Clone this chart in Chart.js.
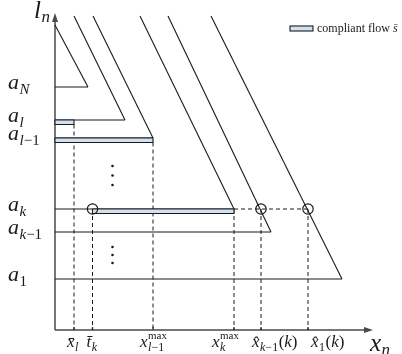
<!DOCTYPE html>
<html><head><meta charset="utf-8">
<style>html,body{margin:0;padding:0;background:#fff;}canvas{display:block;}</style>
<script src="https://cdn.jsdelivr.net/npm/chart.js@4/dist/chart.umd.min.js"></script>
</head><body>
<canvas id="c" width="402" height="354"></canvas>
<script>
// ---- data (x: flow axis, y: level axis) ----
const levelLabels = ['a|N', 'a|l', 'a|l−1', 'a|k', 'a|k−1', 'a|1'];
const levelValues = [243, 210, 192, 121, 98, 51];
const levelEnds   = [33, 70, 98, 179, 216, 287];
const diagTopX    = [0, 19, 38, 85, 113, 156];
const diagTopY    = [305, 314, 314, 314, 314, 314];
const flowLevels  = [210, 192, 121];
const flowStart   = [0, 0, 37.5];
const flowEnd     = [19, 98, 179];
const xTickValues = [19, 37.5, 98, 179, 206, 253];
const xTickLabels = ['x̄|l', 't̄|k', 'x|l−1|max', 'x|k|max', 'x̂|k−1||(k)', 'x̂|1||(k)'];
const dropTop     = [205.5, 121, 187.5, 121, 121, 121];
const markX       = [37.5, 206, 253];
const markY       = [121, 121, 121];
const dashRowY    = 121, dashRowFrom = 179, dashRowTo = 253;
const dotsX       = [57.5, 57.5, 57.5, 57.5, 57.5, 57.5];
const dotsY       = [164, 154.5, 145, 83, 75, 67];
const legendText  = 'compliant flow ';
const legendSym   = 's̄';

// ---- styles / layout ----
const INK = '#1a1a1a';
const BAR_H = 4.5;
const BAR_FILL = '#d3e2f2';
const SERIF = '"Liberation Serif", "DejaVu Serif", serif';
const tickLabelShift = [-7, -6, -13, -22, -9, 3];

const lineBase = {type:'line', showLine:true, pointRadius:0, borderColor:INK, borderWidth:1.1, fill:false, clip:false, tension:0};
const datasets = [];

// circles (drawn on top: first dataset)
datasets.push({type:'scatter', data: markX.map((x,i)=>({x, y:markY[i]})), pointRadius:5.2, pointBorderWidth:1.2,
  pointBorderColor:INK, pointBackgroundColor:'rgba(0,0,0,0)', showLine:false, clip:false});
// ellipsis dots
datasets.push({type:'scatter', data: dotsX.map((x,i)=>({x, y:dotsY[i]})), pointRadius:1.3, pointBorderWidth:0,
  pointBackgroundColor:INK, showLine:false, clip:false});
// compliant flow bars
flowLevels.forEach((lv,i)=>{
  datasets.push(Object.assign({}, lineBase, {
    data:[{x:flowStart[i],y:lv},{x:flowEnd[i],y:lv},{x:flowEnd[i],y:lv-BAR_H},{x:flowStart[i],y:lv-BAR_H},{x:flowStart[i],y:lv}],
    fill:'shape', backgroundColor:BAR_FILL, borderWidth:1.1}));
});
// level lines
levelValues.forEach((lv,i)=>{
  datasets.push(Object.assign({}, lineBase, {data:[{x:0,y:lv},{x:levelEnds[i],y:lv}]}));
});
// diagonals
levelValues.forEach((lv,i)=>{
  datasets.push(Object.assign({}, lineBase, {data:[{x:diagTopX[i],y:diagTopY[i]},{x:levelEnds[i],y:lv}]}));
});
// dashed drop lines
xTickValues.forEach((xv,i)=>{
  datasets.push(Object.assign({}, lineBase, {data:[{x:xv,y:dropTop[i]},{x:xv,y:0}], borderDash:[4,3], borderWidth:1}));
});
// dashed horizontal row
datasets.push(Object.assign({}, lineBase, {data:[{x:dashRowFrom,y:dashRowY},{x:dashRowTo,y:dashRowY}], borderDash:[4,3], borderWidth:1}));

// ---- math-like text drawing ----
function clusters(t){ return t.match(/.[\u0300-\u036f]*/gu) || []; }
function run(ctx, text, x, y, size, roman, draw){
  let w = 0;
  for (const ch of clusters(text)) {
    const it = !roman && /[A-Za-z]/.test(ch[0]);
    ctx.font = (it ? 'italic ' : '') + size + 'px ' + SERIF;
    if (draw) ctx.fillText(ch, x + w, y);
    w += ctx.measureText(ch).width;
  }
  return w;
}
function drawMath(ctx, spec, x, y, st){
  const [base, sub='', sup='', rest=''] = spec.split('|');
  let w = run(ctx, base, x, y, st.base, false, true);
  let sw = 0;
  if (sub) sw = Math.max(sw, run(ctx, sub, x + w + 0.5, y + st.subDy, st.sub, false, true));
  if (sup) sw = Math.max(sw, run(ctx, sup, x + w + 0.5, y - st.supDy, st.sup, true, true));
  w += sw + (sw ? 1 : 0);
  if (rest) w += run(ctx, rest, x + w, y, st.base, false, true);
  return w;
}

const decor = {
  id:'decor',
  beforeDatasetsDraw(chart){
    const {ctx, chartArea:a} = chart;
    const xs = chart.scales.x;
    ctx.save();
    ctx.strokeStyle = '#4a4a4a'; ctx.fillStyle = '#4a4a4a'; ctx.lineWidth = 1.5;
    ctx.beginPath();
    ctx.moveTo(a.left, a.bottom); ctx.lineTo(a.left, a.top + 6);
    ctx.moveTo(a.left, a.bottom); ctx.lineTo(a.right - 6, a.bottom);
    // tick marks
    xTickValues.forEach(v=>{ const p = xs.getPixelForValue(v); ctx.moveTo(p, a.bottom); ctx.lineTo(p, a.bottom - 3); });
    ctx.stroke();
    ctx.beginPath();
    ctx.moveTo(a.left, a.top); ctx.lineTo(a.left - 3, a.top + 9); ctx.lineTo(a.left + 3, a.top + 9); ctx.closePath();
    ctx.moveTo(a.right, a.bottom); ctx.lineTo(a.right - 9, a.bottom - 3); ctx.lineTo(a.right - 9, a.bottom + 3); ctx.closePath();
    ctx.fill();
    ctx.restore();
  },
  afterDraw(chart){
    const {ctx, chartArea:a} = chart;
    const xs = chart.scales.x, ys = chart.scales.y;
    ctx.save();
    ctx.fillStyle = INK; ctx.textBaseline = 'alphabetic'; ctx.textAlign = 'left';
    // level labels
    levelLabels.forEach((lab,i)=>{
      drawMath(ctx, lab, 8, ys.getPixelForValue(levelValues[i]) + 1.5, {base:22, sub:15, subDy:5, sup:12, supDy:8});
    });
    // x tick labels
    xTickLabels.forEach((lab,i)=>{
      drawMath(ctx, lab, xs.getPixelForValue(xTickValues[i]) + tickLabelShift[i], a.bottom + 17,
        {base:17, sub:12, subDy:4, sup:11, supDy:8});
    });
    // axis titles
    drawMath(ctx, 'x|n', a.right - 3, a.bottom + 21, {base:25, sub:17, subDy:4, sup:12, supDy:8});
    drawMath(ctx, 'l|n', a.left - 21, a.top + 5, {base:25, sub:17, subDy:4, sup:12, supDy:8});
    // legend
    const lx = 290, ly = 26;
    ctx.fillStyle = BAR_FILL; ctx.fillRect(lx, ly, 23, 5);
    ctx.strokeStyle = INK; ctx.lineWidth = 1.1; ctx.strokeRect(lx, ly, 23, 5);
    ctx.fillStyle = INK;
    let w = run(ctx, legendText, 317, ly + 6, 12, true, true);
    run(ctx, legendSym, 317 + w, ly + 6, 12, false, true);
    ctx.restore();
  }
};

new Chart(document.getElementById('c'), {
  type:'scatter',
  data:{datasets},
  options:{
    responsive:false, animation:false, devicePixelRatio:1,
    layout:{padding:{left:55, right:29, top:13, bottom:24}},
    scales:{
      x:{type:'linear', min:0, max:318, display:false},
      y:{type:'linear', min:0, max:317, display:false}
    },
    plugins:{legend:{display:false}, tooltip:{enabled:false}}
  },
  plugins:[decor]
});
</script>
</body></html>
